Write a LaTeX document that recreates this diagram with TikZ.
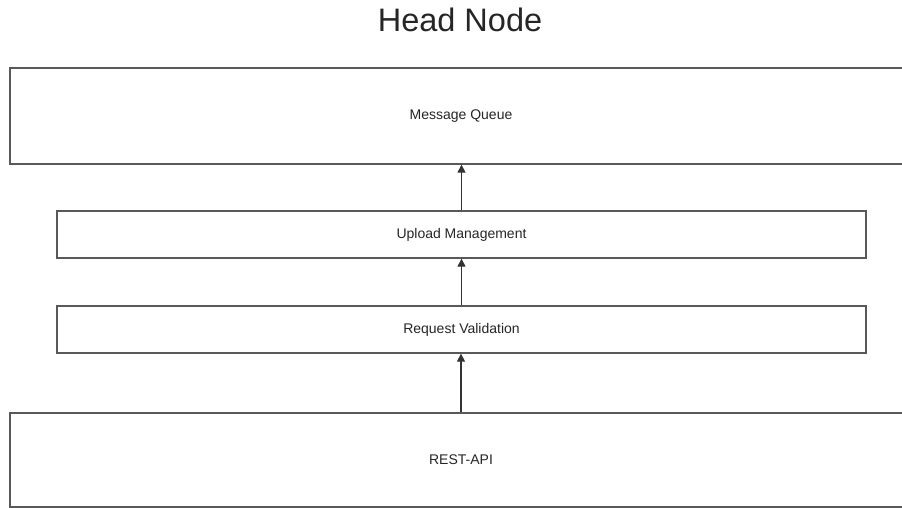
\documentclass[tikz,border=0pt]{standalone}
\usepackage{fontspec}
\setmainfont{Liberation Sans}
\usetikzlibrary{arrows.meta}
\begin{document}
\begin{tikzpicture}[x=1pt,y=-1pt,
  layerbox/.style={draw=black!65, line width=1.3pt, fill=white, inner sep=0pt,
    font=\fontsize{14}{16}\selectfont, text=black!85},
  uparrow/.style={-{Triangle[length=8pt,width=8pt]}, line width=1.1pt, draw=black!80}]
\useasboundingbox (0,0) rectangle (902,508);
\clip (0,0) rectangle (902,508);
\node[anchor=base, font=\fontsize{32.5}{38}\selectfont, text=black!85] (title) at (460,32) {Head Node};
\node[layerbox, minimum width=902pt, minimum height=96pt] (mq) at (461,116) {Message Queue};
\node[layerbox, minimum width=809pt, minimum height=47pt] (upl) at (461.5,234.5) {Upload Management};
\node[layerbox, minimum width=809pt, minimum height=47pt] (req) at (461.5,329.5) {Request Validation};
\node[layerbox, minimum width=902pt, minimum height=94pt] (rest) at (461,460) {REST-API};
\draw[uparrow] (upl.north) -- (upl.north |- mq.south);
\draw[uparrow] (req.north) -- (req.north |- upl.south);
\draw[uparrow] (rest.north) -- (rest.north |- req.south);
\end{tikzpicture}
\end{document}
